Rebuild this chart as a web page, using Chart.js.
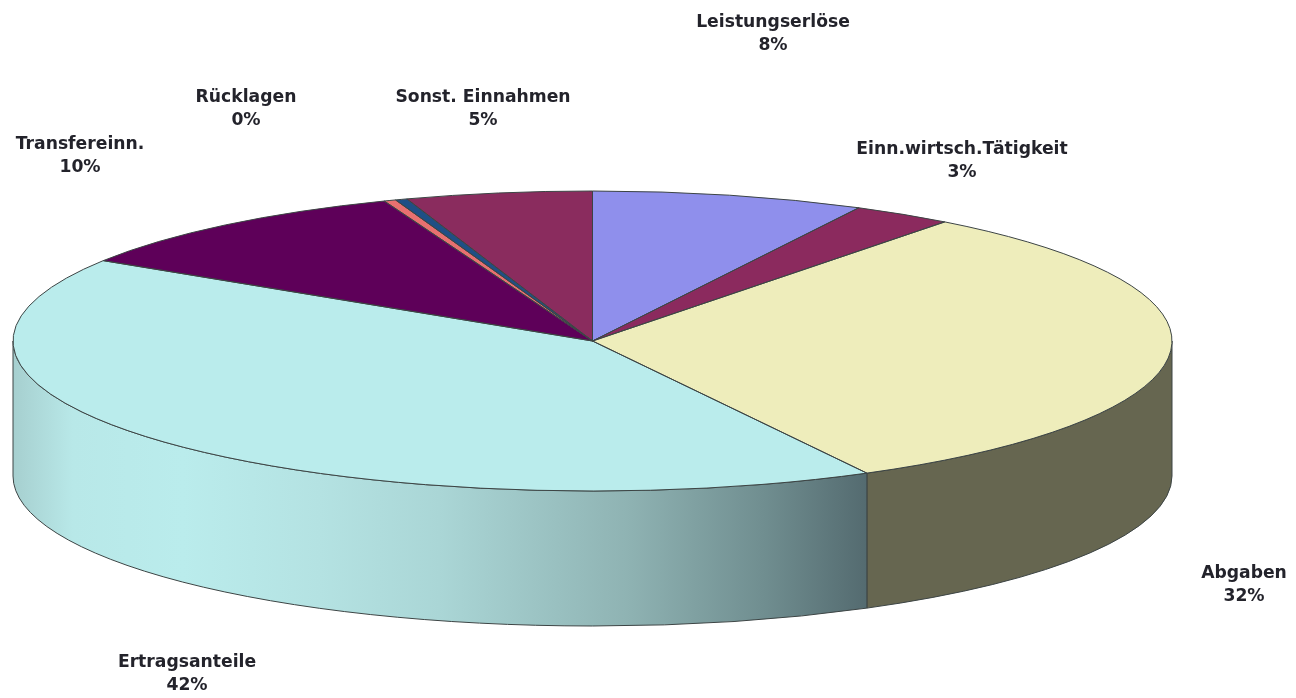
<!DOCTYPE html>
<html><head><meta charset="utf-8">
<style>html,body{margin:0;padding:0;background:#fff}canvas{display:block;filter:blur(.45px)}</style>
<script src="https://cdn.jsdelivr.net/npm/chart.js@4"></script>
</head><body><canvas id="c" width="1296" height="698"></canvas>
<script>
const categories = ['Leistungserlöse','Einn.wirtsch.Tätigkeit','Abgaben','Ertragsanteile','Transfereinn.','Rücklagen','','Sonst. Einnahmen'];
const values = [7.6,2.8,31.75,41.85,10.15,0.33,0.33,5.19];
const percentLabels = ['8%','3%','32%','42%','10%','0%','','5%'];
const sliceColors = ['#8F8FEC','#8B2A5E','#EEEDBB','#BAECEC','#5E0059','#E87070','#1F4F85','#8A2C5E'];

// layout of the tilted projection
const view = {cx:592.5, cy:341, rx:579.5, ry:150, depth:135};
const labelCenters = [[773,22],[962,149],[1244,573],[187,662],[80,144],[246,97],null,[483,97]];
const lineHeight = 23;
const edge = '#3c4444';

function wallFill(ctx,i){
  if(i===2) return '#666650';
  if(i===3){
    const g=ctx.createLinearGradient(13,0,866,0);
    g.addColorStop(0,'#A6CFCF');g.addColorStop(.07,'#B8E8E8');g.addColorStop(.2,'#BAECEC');
    g.addColorStop(.36,'#B4E2E2');g.addColorStop(.5,'#AAD6D6');g.addColorStop(.72,'#8FB3B3');
    g.addColorStop(.88,'#708E90');g.addColorStop(1,'#546B70');
    return g;
  }
  return sliceColors[i];
}
const tilt = {
  id:'tilt',
  beforeDatasetsDraw(chart){
    const ctx=chart.ctx, arcs=chart.getDatasetMeta(0).data, v=view;
    ctx.save();
    arcs.forEach((a,i)=>{
      const s=Math.max(a.startAngle,0), e=Math.min(a.endAngle,Math.PI);
      if(e<=s) return;
      ctx.beginPath();
      ctx.ellipse(v.cx,v.cy,v.rx,v.ry,0,s,e);
      ctx.ellipse(v.cx,v.cy+v.depth,v.rx,v.ry,0,e,s,true);
      ctx.closePath();
      ctx.fillStyle=wallFill(ctx,i);ctx.fill();
      ctx.strokeStyle=edge;ctx.lineWidth=1;ctx.stroke();
    });
    ctx.restore();
    const a0=arcs[0];
    ctx.save();
    ctx.translate(v.cx,v.cy);
    ctx.scale(v.rx/a0.outerRadius,v.ry/a0.outerRadius);
    ctx.translate(-a0.x,-a0.y);
  },
  afterDatasetsDraw(chart){
    const ctx=chart.ctx, arcs=chart.getDatasetMeta(0).data, v=view;
    ctx.restore();
    ctx.save();
    ctx.strokeStyle=edge;ctx.lineWidth=1;
    arcs.forEach(a=>{
      ctx.beginPath();
      ctx.moveTo(v.cx,v.cy);
      ctx.ellipse(v.cx,v.cy,v.rx,v.ry,0,a.startAngle,a.endAngle);
      ctx.closePath();
      ctx.stroke();
    });
    ctx.fillStyle='#23232b';
    ctx.font='bold 17.2px "DejaVu Sans"';
    ctx.textAlign='center';ctx.textBaseline='middle';
    categories.forEach((c,i)=>{
      const p=labelCenters[i]; if(!p) return;
      ctx.fillText(c,p[0],p[1]+1);
      ctx.fillText(percentLabels[i],p[0],p[1]+1+lineHeight);
    });
    ctx.restore();
  }
};
new Chart(document.getElementById('c'),{
  type:'pie',
  data:{labels:categories,datasets:[{data:values,backgroundColor:sliceColors,borderWidth:0}]},
  options:{responsive:false,animation:false,rotation:0,
    plugins:{legend:{display:false},tooltip:{enabled:false},title:{display:false}}},
  plugins:[tilt]
});
</script></body></html>
